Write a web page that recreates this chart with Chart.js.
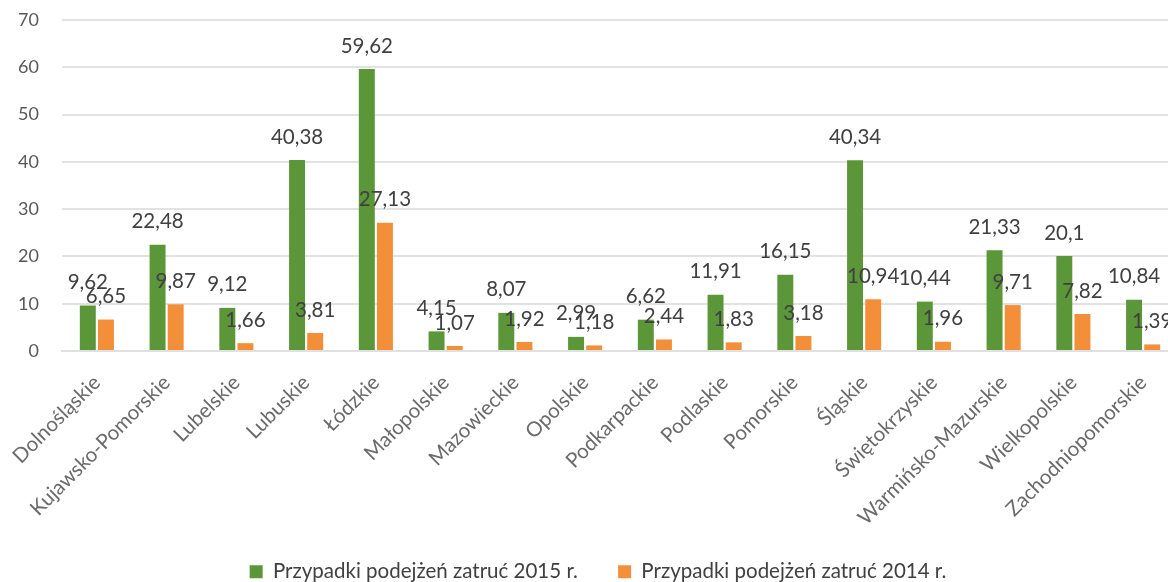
<!DOCTYPE html>
<html lang="pl">
<head>
<meta charset="utf-8">
<title>Przypadki podejrzeń zatruć według województw</title>
<script src="https://cdn.jsdelivr.net/npm/chart.js@4/dist/chart.umd.min.js"></script>
<style>
  html, body { margin: 0; padding: 0; background: #ffffff; overflow: hidden; }
  #wrap { width: 1248px; height: 592px; }
  canvas { display: block; }
</style>
</head>
<body>
<div id="wrap"><canvas id="chart" width="1248" height="592"></canvas></div>
<script>
// Województwa (categories on the x axis)
const regions = [
  'Dolnośląskie', 'Kujawsko-Pomorskie', 'Lubelskie', 'Lubuskie', 'Łódzkie',
  'Małopolskie', 'Mazowieckie', 'Opolskie', 'Podkarpackie', 'Podlaskie',
  'Pomorskie', 'Śląskie', 'Świętokrzyskie', 'Warmińsko-Mazurskie',
  'Wielkopolskie', 'Zachodniopomorskie'
];

// Przypadki podejrzeń zatruć – 2015
const cases2015 = [9.62, 22.48, 9.12, 40.38, 59.62, 4.15, 8.07, 2.99, 6.62, 11.91, 16.15, 40.34, 10.44, 21.33, 20.1, 10.84];

// Przypadki podejrzeń zatruć – 2014
const cases2014 = [6.65, 9.87, 1.66, 3.81, 27.13, 1.07, 1.92, 1.18, 2.44, 1.83, 3.18, 10.94, 1.96, 9.71, 7.82, 1.39];

// Series names shown in the legend
const seriesNames = ['Przypadki podejżeń zatruć 2015 r.', 'Przypadki podejżeń zatruć 2014 r.'];

// Value axis ticks
const yTicks = [0, 10, 20, 30, 40, 50, 60, 70];

const FONT = 'Lato, "Open Sans", "DejaVu Sans", sans-serif';

// Writes each bar's value above it, with a decimal comma
const valueLabels = {
  id: 'valueLabels',
  afterDatasetsDraw(chart) {
    const ctx = chart.ctx;
    ctx.save();
    ctx.font = '20.5px ' + FONT;
    ctx.fillStyle = '#404040';
    ctx.textAlign = 'center';
    ctx.textBaseline = 'middle';
    chart.data.datasets.forEach((ds, di) => {
      const meta = chart.getDatasetMeta(di);
      meta.data.forEach((bar, i) => {
        const text = String(ds.data[i]).replace('.', ',');
        ctx.fillText(text, bar.x, bar.y - 23);
      });
    });
    ctx.restore();
  }
};

new Chart(document.getElementById('chart'), {
  type: 'bar',
  data: {
    labels: regions,
    datasets: [
      {
        label: seriesNames[0],
        data: cases2015,
        backgroundColor: '#5b9638',
        categoryPercentage: 0.52,
        barPercentage: 0.88
      },
      {
        label: seriesNames[1],
        data: cases2014,
        backgroundColor: '#f28f38',
        categoryPercentage: 0.52,
        barPercentage: 0.88
      }
    ]
  },
  options: {
    responsive: false,
    animation: false,
    events: [],
    layout: { padding: { top: 20, left: 18, right: 70, bottom: 0 } },
    scales: {
      x: {
        grid: { display: false, drawTicks: false },
        border: { display: true, color: '#e0e0e0', width: 2 },
        ticks: {
          autoSkip: false,
          minRotation: 45,
          maxRotation: 45,
          padding: 19.5,
          color: '#6a6a6a',
          font: { family: FONT, size: 20.5 }
        },
        afterFit(scale) {
          scale.height = 196.5;
          scale.paddingLeft = 0;
          scale.paddingRight = 0;
        }
      },
      y: {
        min: yTicks[0],
        max: yTicks[yTicks.length - 1],
        afterBuildTicks(scale) { scale.ticks = yTicks.map(v => ({ value: v })); },
        afterFit(scale) {
          scale.width = 44;
          scale.paddingTop = 0;
          scale.paddingBottom = 0;
        },
        grid: { color: '#e2e2e2', lineWidth: 2, drawTicks: false },
        border: { display: false },
        ticks: {
          padding: 23,
          color: '#595959',
          font: { family: FONT, size: 18 }
        }
      }
    },
    plugins: {
      tooltip: { enabled: false },
      legend: {
        position: 'bottom',
        align: 'center',
        labels: {
          boxWidth: 13,
          boxHeight: 13,
          padding: 14,
          color: '#404040',
          font: { family: FONT, size: 20.5 },
          // wider gap between the two legend entries
          generateLabels(chart) {
            const items = Chart.defaults.plugins.legend.labels.generateLabels(chart);
            items[0].text += '     ';
            return items;
          }
        }
      }
    }
  },
  plugins: [valueLabels]
});
</script>
</body>
</html>
